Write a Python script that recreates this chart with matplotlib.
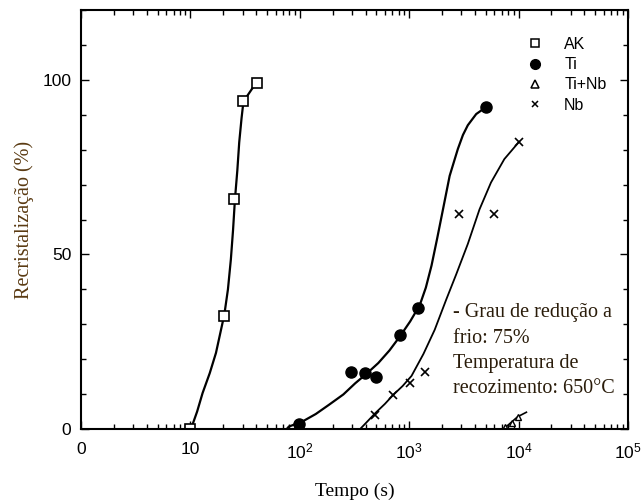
import matplotlib
matplotlib.use("Agg")
import matplotlib.pyplot as plt
from matplotlib.ticker import FixedLocator, LogLocator, MultipleLocator, NullFormatter
from matplotlib.lines import Line2D

plt.rcParams['mathtext.fontset'] = 'custom'
plt.rcParams['mathtext.rm'] = 'Liberation Sans'
plt.rcParams['mathtext.it'] = 'Liberation Sans:italic'

# pontos medidos
ak_t = [10, 20.4, 25.1, 30.3, 40.6]
ak_y = [0, 32.5, 66, 94, 99]
ti_t = [99, 295, 395, 498, 832, 1205, 5045]
ti_y = [1.3, 16.3, 16, 15, 26.8, 34.7, 92.2]
tinb_t = [7500, 8800, 9800]
tinb_y = [0.5, 1.6, 3.5]
nb_t = [488, 716, 1015, 1384, 2830, 6010, 10140]
nb_y = [4, 9.8, 13.3, 16.2, 61.5, 61.5, 82.3]

# curvas ajustadas
ak_curva_t = [10.1, 11.5, 12.9, 15, 17.1, 20.4, 22, 23.4, 24.5, 25.5, 26.8, 27.9, 29.3, 30.5, 40.1]
ak_curva_y = [0, 5, 10.3, 16, 21.8, 32.8, 40, 48.6, 57, 65.8, 74, 82.1, 89, 93.8, 99.3]
ti_curva_t = [75.9, 79.4, 105, 140, 184, 250, 321, 410, 522, 660, 822, 1020, 1250, 1420,
              1600, 1800, 2037, 2344, 2786, 3100, 3436, 4100, 5047]
ti_curva_y = [0, 0.7, 2.1, 4.3, 6.9, 9.9, 13.1, 15.9, 18.9, 22.5, 26.5, 30.8, 35.5, 40.5,
              46.8, 54.5, 62.9, 72.5, 80.2, 84.2, 87, 90.2, 92.2]
nb_curva_t = [356, 410, 488, 600, 716, 870, 1050, 1350, 1710, 2183, 2692, 3436, 4395,
              5598, 7413, 10140]
nb_curva_y = [0, 2, 4.5, 7.2, 9.8, 12.3, 15.2, 21.5, 28.4, 37.1, 44.3, 53, 62.9,
              70.6, 77.3, 82.3]
tinb_curva_t = [7300, 9800, 11800]
tinb_curva_y = [0, 3.5, 4.8]

xticks = [1, 10, 100, 1000, 10000, 100000]
xtick_labels = ['0', '10', r'$\mathregular{10^2}$', r'$\mathregular{10^3}$',
                r'$\mathregular{10^4}$', r'$\mathregular{10^5}$']

fig = plt.figure(figsize=(6.44, 5.0), dpi=100)
ax = fig.add_axes([0.126, 0.142, 0.849, 0.838])

ax.plot(ak_curva_t, ak_curva_y, color='k', lw=1.6)
ax.plot(ti_curva_t, ti_curva_y, color='k', lw=1.6)
ax.plot(nb_curva_t, nb_curva_y, color='k', lw=1.3)
ax.plot(tinb_curva_t, tinb_curva_y, color='k', lw=1.2)

ax.plot(ak_t, ak_y, 's', ms=7, mfc='white', mec='k', mew=1.2)
ax.plot(ti_t, ti_y, 'o', ms=8, color='k')
ax.plot(tinb_t, tinb_y, '^', ms=5, mfc='white', mec='k', mew=1)
ax.plot(nb_t, nb_y, 'x', ms=6, color='k', mew=1.2)

ax.set_xscale('log')
ax.set_xlim(1, 1e5)
ax.set_ylim(0, 120)
ax.xaxis.set_major_locator(FixedLocator(xticks))
ax.set_xticklabels(xtick_labels)
ax.xaxis.set_minor_locator(LogLocator(base=10, subs=range(2, 10)))
ax.xaxis.set_minor_formatter(NullFormatter())
ax.set_yticks([0, 50, 100])
ax.yaxis.set_minor_locator(MultipleLocator(10))

ax.tick_params(which='both', direction='in', top=True, right=True,
               labelsize=12.5, width=1)
ax.tick_params(which='major', length=6)
ax.tick_params(axis='x', which='major', pad=9)
ax.tick_params(axis='y', which='major', pad=7)
ax.tick_params(which='minor', length=3.5)
for lab in ax.get_xticklabels() + ax.get_yticklabels():
    lab.set_family('Liberation Sans')
for s in ax.spines.values():
    s.set_linewidth(1.5)

ax.set_xlabel('Tempo (s)', family='Liberation Serif', fontsize=14, labelpad=15)
ax.set_ylabel('Recristalização (%)', family='Liberation Serif', fontsize=14.5,
              color='#5a3a12', labelpad=6)

handles = [
    Line2D([], [], ls='none', marker='s', ms=6, mfc='white', mec='k', mew=1.1),
    Line2D([], [], ls='none', marker='o', ms=7, color='k'),
    Line2D([], [], ls='none', marker='^', ms=6, mfc='white', mec='k', mew=1.1),
    Line2D([], [], ls='none', marker='x', ms=5, color='k', mew=1.1),
]
ax.legend(handles, ['AK', 'Ti', 'Ti+Nb', 'Nb'], loc='upper left',
          bbox_to_anchor=(0.79, 0.97), frameon=False, handlelength=1,
          handletextpad=1.3, labelspacing=0.33,
          prop={'family': 'Liberation Sans', 'size': 11.5})

ax.text(0.681, 0.30, '- Grau de redução a\nfrio: 75%\nTemperatura de\nrecozimento: 650°C',
        transform=ax.transAxes, family='Liberation Serif', fontsize=14.5,
        color='#2a1c0a', linespacing=1.45, va='top', ha='left')

plt.savefig('out.png', dpi=100)
